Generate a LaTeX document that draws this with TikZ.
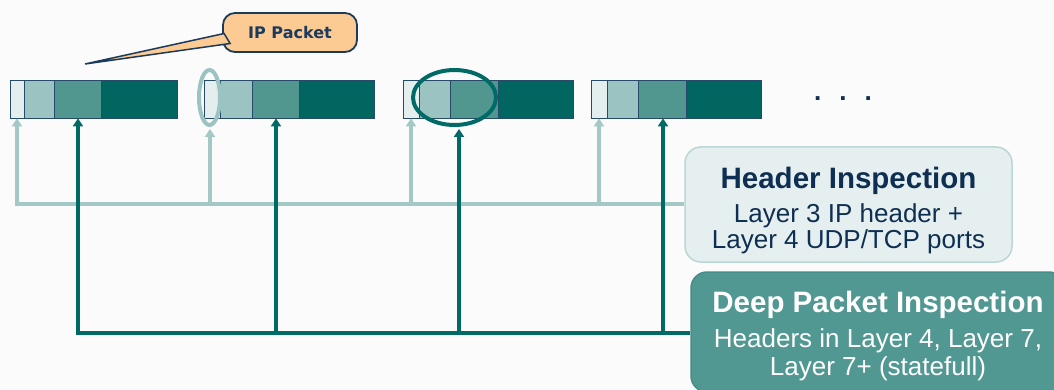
\documentclass[tikz,border=0pt]{standalone}
\usepackage{fontspec}
\setmainfont{Liberation Sans}
\newfontfamily\ipfont{DejaVu Sans}
\usetikzlibrary{arrows.meta,shapes.geometric}
\definecolor{bgcol}{HTML}{FBFBFB}
\definecolor{segA}{HTML}{E4EEEF}
\definecolor{segB}{HTML}{9BC3C1}
\definecolor{segC}{HTML}{529690}
\definecolor{segD}{HTML}{00665F}
\definecolor{segline}{HTML}{27496A}
\definecolor{lightln}{HTML}{A3C8C6}
\definecolor{darkln}{HTML}{006B66}
\definecolor{hdrfill}{HTML}{E5EFEF}
\definecolor{hdrdraw}{HTML}{BBD7D5}
\definecolor{deepfill}{HTML}{529892}
\definecolor{deepdraw}{HTML}{468E88}
\definecolor{navy}{HTML}{0F2F52}
\definecolor{peach}{HTML}{FCCB93}
\definecolor{callline}{HTML}{1C3A5C}
\tikzset{
  seg/.style={draw=segline, line width=0.8pt, inner sep=0pt, minimum height=38pt},
  sa/.style={seg, fill=segA, minimum width=#1},
  sb/.style={seg, fill=segB, minimum width=#1},
  sc/.style={seg, fill=segC, minimum width=#1},
  sd/.style={seg, fill=segD, minimum width=#1},
  lbus/.style={draw=lightln, line width=3.5pt},
  dbus/.style={draw=darkln, line width=3.5pt},
  larr/.style={lbus, -{Triangle[width=10pt,length=8pt]}},
  darr/.style={dbus, -{Triangle[width=10pt,length=8pt]}},
  ring/.style={ellipse, draw=#1, line width=4pt, inner sep=0pt, fill=none},
  infobox/.style={rounded corners=16pt, inner sep=0pt},
  boxtitle/.style={font=\fontsize{29.5}{29.5}\selectfont\bfseries},
}
\begin{document}
\begin{tikzpicture}[x=1pt,y=-1pt]
\useasboundingbox (0,0) rectangle (1054,390);
\clip (0,0) rectangle (1054,390);
\fill[bgcol] (0,0) rectangle (1054,390);

% packets
\node[sa=14pt] (p1a) at (17,99) {};
\node[sb=30pt] (p1b) at (39,99) {};
\node[sc=47pt] (p1c) at (77.5,99) {};
\node[sd=76pt] (p1d) at (139,99) {};

\node[sa=16pt] (p2a) at (212,99) {};
\node[sb=32pt] (p2b) at (236,99) {};
\node[sc=47pt] (p2c) at (275.5,99) {};
\node[sd=75pt] (p2d) at (336.5,99) {};

\node[sa=16pt] (p3a) at (411,99) {};
\node[sb=31pt] (p3b) at (434.5,99) {};
\node[sc=48pt] (p3c) at (474,99) {};
\node[sd=75pt] (p3d) at (535.5,99) {};

\node[sa=16pt] (p4a) at (599,99) {};
\node[sb=31pt] (p4b) at (622.5,99) {};
\node[sc=48pt] (p4c) at (662,99) {};
\node[sd=75pt] (p4d) at (723.5,99) {};

\node[text=navy, font=\fontsize{26}{26}\selectfont\bfseries, anchor=base] (dots) at (843,101) {.\hspace{18pt}.\hspace{18pt}.};

% ellipses
\node[ring=segB, minimum width=21pt, minimum height=55pt] (e1) at (209.5,97.5) {};
\node[ring=darkln, minimum width=83pt, minimum height=55pt] (e2) at (454.5,97.5) {};

% boxes
\node[infobox, fill=hdrfill, draw=hdrdraw, line width=1.5pt,
      minimum width=327pt, minimum height=115pt] (hdr) at (848.5,204.5) {};
\node[text=navy, align=center, inner sep=0pt, anchor=north,
      font=\fontsize{26}{26}\selectfont] (hdrtxt) at (848.5,167)
  {{\fontsize{29.5}{29.5}\selectfont\bfseries Header Inspection}\\[8pt]
   Layer 3 IP header +\\ Layer 4 UDP/TCP ports};

\node[infobox, fill=deepfill, draw=deepdraw, line width=1.5pt,
      minimum width=374pt, minimum height=120pt] (dpi) at (878,332) {};
\node[text=white, align=center, inner sep=0pt, anchor=north,
      font=\fontsize{26}{28}\selectfont] (dpitxt) at (878,291)
  {{\fontsize{29.5}{29.5}\selectfont\bfseries Deep Packet Inspection}\\[7pt]
   Headers in Layer 4, Layer 7,\\ Layer 7+ (statefull)};

% light bus
\coordinate (lb1) at (17,204);
\coordinate (lb2) at (210,204);
\coordinate (lb3) at (411,204);
\coordinate (lb4) at (599,204);
\draw[larr] (lb1 -| hdr.west) -- (lb1) -- (p1a.south);
\draw[larr] (lb2) -- (lb2 |- e1.south) [shorten >=2pt];
\draw[larr] (lb3) -- (p3a.south);
\draw[larr] (lb4) -- (p4a.south);

% dark bus
\coordinate (db1) at (78,333);
\coordinate (db2) at (276,333);
\coordinate (db3) at (459,333);
\coordinate (db4) at (663,333);
\draw[darr] (db1 -| dpi.west) -- (db1) -- (db1 |- p1c.south);
\draw[darr] (db2) -- (db2 |- p2c.south);
\draw[darr, shorten >=2pt] (db3) -- (db3 |- e2.south);
\draw[darr] (db4) -- (db4 |- p4c.south);

% callout
\node[infobox, rounded corners=12pt, fill=peach, draw=callline, line width=1.8pt,
      minimum width=134pt, minimum height=39pt] (ip) at (290,32.5) {};
\coordinate (tip) at (85,64);
\filldraw[fill=peach, draw=callline, line width=1.5pt, line join=miter]
  ([shift={(2,1)}]ip.west) -- (tip) -- ([shift={(8,11)}]ip.west) -- cycle;
\node[font=\ipfont\fontsize{16}{16}\selectfont\bfseries, text=callline] (iptxt) at (ip.center) {IP Packet};
\end{tikzpicture}
\end{document}
